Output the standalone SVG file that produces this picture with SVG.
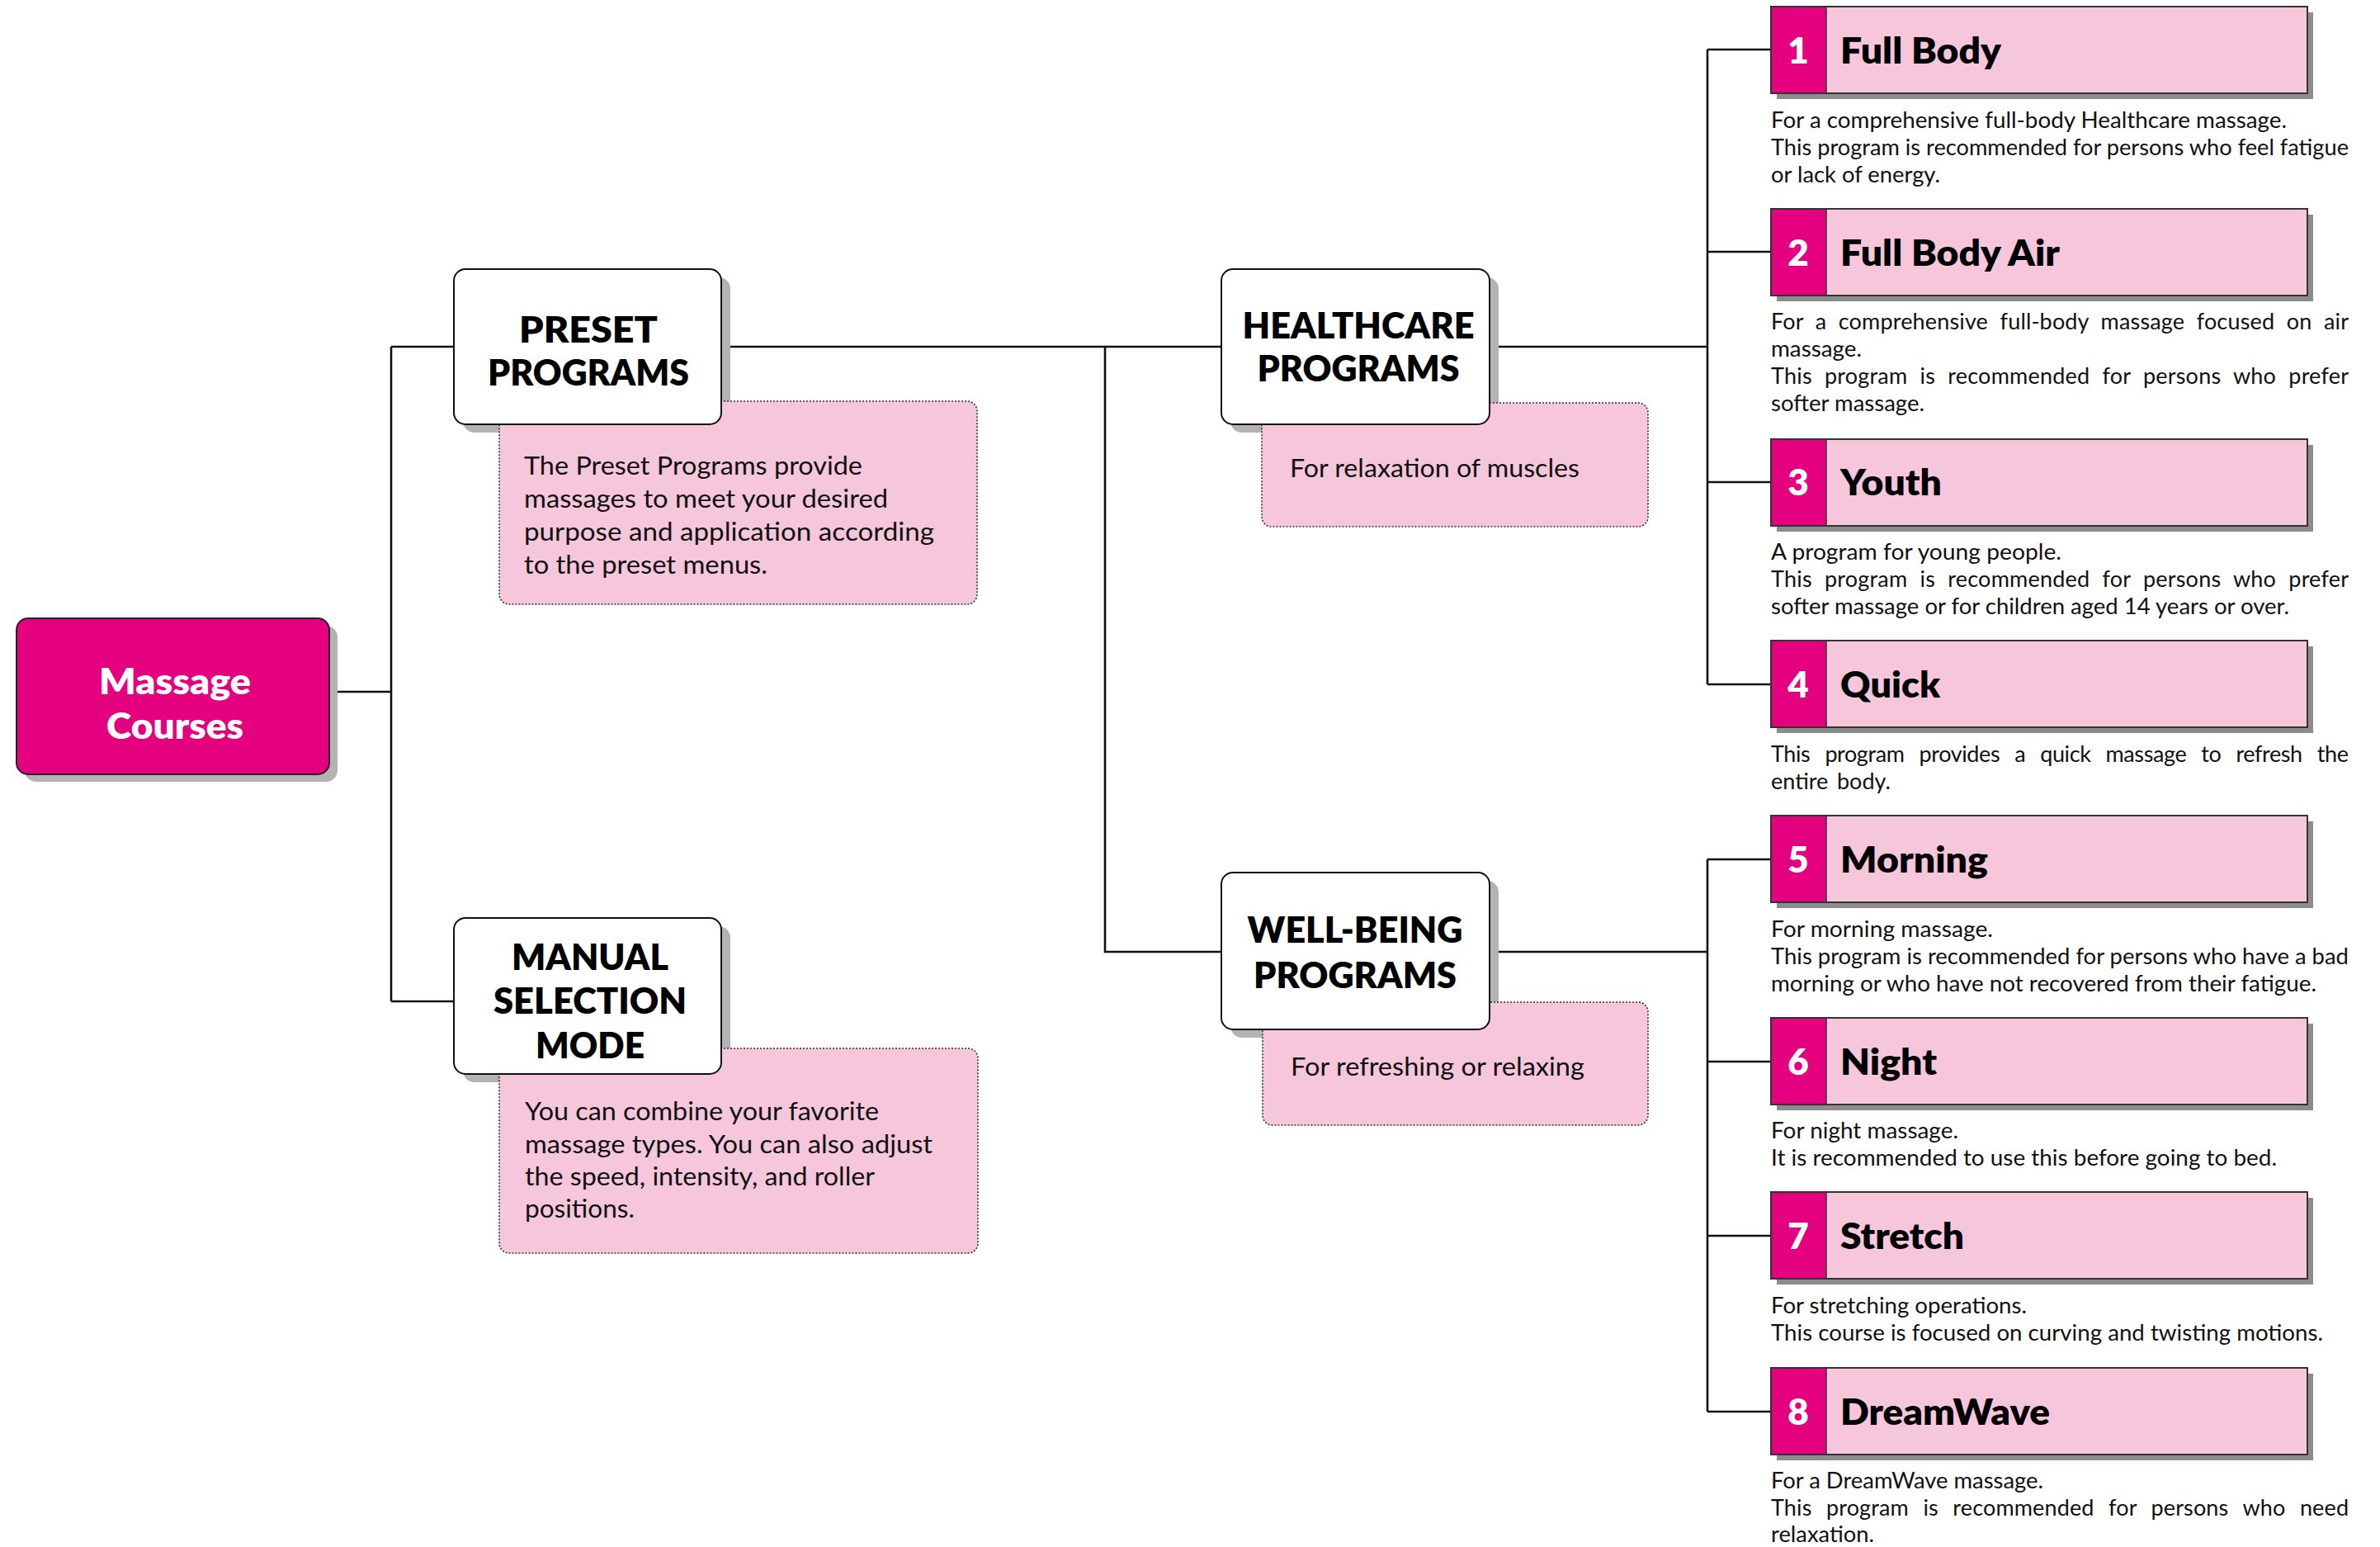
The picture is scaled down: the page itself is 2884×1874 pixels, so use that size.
<svg xmlns="http://www.w3.org/2000/svg" width="2884" height="1874" viewBox="0 0 2884 1874">
<style>
  text { font-family: Lato, "Liberation Sans", "DejaVu Sans", sans-serif; }
  .conn { stroke: #111; stroke-width: 2.6; fill: none; }
  .nshadow { fill: #b3b3b3; }
  .node { fill: #ffffff; stroke: #111; stroke-width: 2; }
  .root { fill: #e4007f; stroke: #222; stroke-width: 2; }
  .note { fill: #f6c6db; stroke: #333; stroke-width: 1.6; stroke-dasharray: 2 2; }
  .ntitle { font-size: 44px; font-weight: 800; fill: #000; text-anchor: middle; }
  .rtitle { font-size: 44px; font-weight: 800; fill: #fff; text-anchor: middle; }
  .nbody { font-size: 31px; fill: #111; }
  .pshadow { fill: #8c8c8c; }
  .pbox { fill: #f6c6db; stroke: #333; stroke-width: 2; }
  .pnum { fill: #e4007f; }
  .num { font-size: 44px; font-weight: 800; fill: #fff; text-anchor: middle; }
  .ptitle { font-size: 44px; font-weight: 800; fill: #000; }
  .desc { font-size: 27px; fill: #111; }
</style>

<g id="connectors">
  <path class="conn" d="M398,838 H474 M474,420 V1213 M474,420 H550 M474,1213 H550"/>
  <path class="conn" d="M874,420 H1480 M1339,420 V1153 H1480"/>
  <path class="conn" d="M1805,420 H2069 M2069,60 V829 M2069,60 H2146 M2069,305 H2146 M2069,584 H2146 M2069,829 H2146"/>
  <path class="conn" d="M1805,1153 H2069 M2069,1041 V1710 M2069,1041 H2146 M2069,1286 H2146 M2069,1497 H2146 M2069,1710 H2146"/>
</g>

<g id="massage-courses">
  <rect class="nshadow" x="30" y="758" width="379" height="189" rx="14"/>
  <rect class="root" x="20" y="749" width="379" height="189" rx="14"/>
  <text class="rtitle" x="212" y="841" textLength="184" lengthAdjust="spacingAndGlyphs">Massage</text>
  <text class="rtitle" x="212" y="895" textLength="166" lengthAdjust="spacingAndGlyphs">Courses</text>
</g>

<g id="preset-programs">
  <rect class="nshadow" x="561" y="336" width="324" height="188" rx="14"/>
  <rect class="note" x="605" y="486" width="579" height="246" rx="12"/>
  <rect class="node" x="550" y="326" width="324" height="188" rx="14"/>
  <text class="ntitle" x="713" y="415" textLength="168" lengthAdjust="spacingAndGlyphs">PRESET</text>
  <text class="ntitle" x="713" y="467" textLength="244" lengthAdjust="spacingAndGlyphs">PROGRAMS</text>
  <text class="nbody" x="635" y="575" textLength="410" lengthAdjust="spacingAndGlyphs">The Preset Programs provide</text>
  <text class="nbody" x="635" y="615" textLength="441" lengthAdjust="spacingAndGlyphs">massages to meet your desired</text>
  <text class="nbody" x="635" y="655" textLength="497" lengthAdjust="spacingAndGlyphs">purpose and application according</text>
  <text class="nbody" x="635" y="695" textLength="295" lengthAdjust="spacingAndGlyphs">to the preset menus.</text>
</g>

<g id="manual-selection-mode">
  <rect class="nshadow" x="561" y="1122" width="324" height="189" rx="14"/>
  <rect class="note" x="605" y="1270" width="580" height="248" rx="12"/>
  <rect class="node" x="550" y="1112" width="324" height="189" rx="14"/>
  <text class="ntitle" x="715" y="1175" textLength="190" lengthAdjust="spacingAndGlyphs">MANUAL</text>
  <text class="ntitle" x="715" y="1228" textLength="234" lengthAdjust="spacingAndGlyphs">SELECTION</text>
  <text class="ntitle" x="715" y="1282" textLength="132" lengthAdjust="spacingAndGlyphs">MODE</text>
  <text class="nbody" x="636" y="1357" textLength="429" lengthAdjust="spacingAndGlyphs">You can combine your favorite</text>
  <text class="nbody" x="636" y="1397" textLength="494" lengthAdjust="spacingAndGlyphs">massage types. You can also adjust</text>
  <text class="nbody" x="636" y="1436" textLength="424" lengthAdjust="spacingAndGlyphs">the speed, intensity, and roller</text>
  <text class="nbody" x="636" y="1475" textLength="133" lengthAdjust="spacingAndGlyphs">positions.</text>
</g>

<g id="healthcare-programs">
  <rect class="nshadow" x="1491" y="336" width="325" height="188" rx="14"/>
  <rect class="note" x="1529" y="488" width="468" height="150" rx="12"/>
  <rect class="node" x="1480" y="326" width="325" height="188" rx="14"/>
  <text class="ntitle" x="1646" y="410" textLength="281" lengthAdjust="spacingAndGlyphs">HEALTHCARE</text>
  <text class="ntitle" x="1646" y="462" textLength="245" lengthAdjust="spacingAndGlyphs">PROGRAMS</text>
  <text class="nbody" x="1563" y="578" textLength="351" lengthAdjust="spacingAndGlyphs">For relaxation of muscles</text>
</g>

<g id="well-being-programs">
  <rect class="nshadow" x="1491" y="1067" width="325" height="190" rx="14"/>
  <rect class="note" x="1530" y="1214" width="467" height="149" rx="12"/>
  <rect class="node" x="1480" y="1057" width="325" height="190" rx="14"/>
  <text class="ntitle" x="1642" y="1142" textLength="261" lengthAdjust="spacingAndGlyphs">WELL-BEING</text>
  <text class="ntitle" x="1642" y="1197" textLength="246" lengthAdjust="spacingAndGlyphs">PROGRAMS</text>
  <text class="nbody" x="1564" y="1303" textLength="356" lengthAdjust="spacingAndGlyphs">For refreshing or relaxing</text>
</g>

<g id="program-1">
  <rect class="pshadow" x="2153" y="15" width="650" height="105"/>
  <rect class="pbox" x="2146" y="8" width="650" height="105"/>
  <rect class="pnum" x="2147" y="9" width="66" height="103"/>
  <line x1="2213" y1="8" x2="2213" y2="113" stroke="#333" stroke-width="1.5"/>
  <text class="num" x="2179" y="77">1</text>
  <text class="ptitle" x="2230" y="77" textLength="195" lengthAdjust="spacingAndGlyphs">Full Body</text>
  <text class="desc" x="2146" y="155" textLength="625" lengthAdjust="spacingAndGlyphs">For a comprehensive full-body Healthcare massage.</text>
  <text class="desc" x="2146" y="188" textLength="700" lengthAdjust="spacingAndGlyphs">This program is recommended for persons who feel fatigue</text>
  <text class="desc" x="2146" y="221" textLength="205" lengthAdjust="spacingAndGlyphs">or lack of energy.</text>
</g>

<g id="program-2">
  <rect class="pshadow" x="2153" y="260" width="650" height="105"/>
  <rect class="pbox" x="2146" y="253" width="650" height="105"/>
  <rect class="pnum" x="2147" y="254" width="66" height="103"/>
  <line x1="2213" y1="253" x2="2213" y2="358" stroke="#333" stroke-width="1.5"/>
  <text class="num" x="2179" y="322">2</text>
  <text class="ptitle" x="2230" y="322" textLength="266" lengthAdjust="spacingAndGlyphs">Full Body Air</text>
  <text class="desc" x="2146" y="399" style="word-spacing:7.5px" textLength="700" lengthAdjust="spacing">For a comprehensive full-body massage focused on air</text>
  <text class="desc" x="2146" y="432" textLength="110" lengthAdjust="spacingAndGlyphs">massage.</text>
  <text class="desc" x="2146" y="465" style="word-spacing:8px" textLength="700" lengthAdjust="spacing">This program is recommended for persons who prefer</text>
  <text class="desc" x="2146" y="498" textLength="186" lengthAdjust="spacingAndGlyphs">softer massage.</text>
</g>

<g id="program-3">
  <rect class="pshadow" x="2153" y="539" width="650" height="105"/>
  <rect class="pbox" x="2146" y="532" width="650" height="105"/>
  <rect class="pnum" x="2147" y="533" width="66" height="103"/>
  <line x1="2213" y1="532" x2="2213" y2="637" stroke="#333" stroke-width="1.5"/>
  <text class="num" x="2179" y="600">3</text>
  <text class="ptitle" x="2230" y="600" textLength="123" lengthAdjust="spacingAndGlyphs">Youth</text>
  <text class="desc" x="2146" y="678" textLength="352" lengthAdjust="spacingAndGlyphs">A program for young people.</text>
  <text class="desc" x="2146" y="711" style="word-spacing:8px" textLength="700" lengthAdjust="spacing">This program is recommended for persons who prefer</text>
  <text class="desc" x="2146" y="744" textLength="628" lengthAdjust="spacingAndGlyphs">softer massage or for children aged 14 years or over.</text>
</g>

<g id="program-4">
  <rect class="pshadow" x="2153" y="783" width="650" height="105"/>
  <rect class="pbox" x="2146" y="776" width="650" height="105"/>
  <rect class="pnum" x="2147" y="777" width="66" height="103"/>
  <line x1="2213" y1="776" x2="2213" y2="881" stroke="#333" stroke-width="1.5"/>
  <text class="num" x="2179" y="845">4</text>
  <text class="ptitle" x="2230" y="845" textLength="121" lengthAdjust="spacingAndGlyphs">Quick</text>
  <text class="desc" x="2146" y="923" style="word-spacing:11.5px" textLength="700" lengthAdjust="spacing">This program provides a quick massage to refresh the</text>
  <text class="desc" y="956"><tspan x="2146">entire</tspan><tspan x="2226">body.</tspan></text>
</g>

<g id="program-5">
  <rect class="pshadow" x="2153" y="995" width="650" height="105"/>
  <rect class="pbox" x="2146" y="988" width="650" height="105"/>
  <rect class="pnum" x="2147" y="989" width="66" height="103"/>
  <line x1="2213" y1="988" x2="2213" y2="1093" stroke="#333" stroke-width="1.5"/>
  <text class="num" x="2179" y="1057">5</text>
  <text class="ptitle" x="2230" y="1057" textLength="179" lengthAdjust="spacingAndGlyphs">Morning</text>
  <text class="desc" x="2146" y="1135" textLength="269" lengthAdjust="spacingAndGlyphs">For morning massage.</text>
  <text class="desc" x="2146" y="1168" textLength="700" lengthAdjust="spacingAndGlyphs">This program is recommended for persons who have a bad</text>
  <text class="desc" x="2146" y="1201" textLength="661" lengthAdjust="spacingAndGlyphs">morning or who have not recovered from their fatigue.</text>
</g>

<g id="program-6">
  <rect class="pshadow" x="2153" y="1240" width="650" height="105"/>
  <rect class="pbox" x="2146" y="1233" width="650" height="105"/>
  <rect class="pnum" x="2147" y="1234" width="66" height="103"/>
  <line x1="2213" y1="1233" x2="2213" y2="1338" stroke="#333" stroke-width="1.5"/>
  <text class="num" x="2179" y="1302">6</text>
  <text class="ptitle" x="2230" y="1302" textLength="117" lengthAdjust="spacingAndGlyphs">Night</text>
  <text class="desc" x="2146" y="1379" textLength="227" lengthAdjust="spacingAndGlyphs">For night massage.</text>
  <text class="desc" x="2146" y="1412" textLength="613" lengthAdjust="spacingAndGlyphs">It is recommended to use this before going to bed.</text>
</g>

<g id="program-7">
  <rect class="pshadow" x="2153" y="1451" width="650" height="105"/>
  <rect class="pbox" x="2146" y="1444" width="650" height="105"/>
  <rect class="pnum" x="2147" y="1445" width="66" height="103"/>
  <line x1="2213" y1="1444" x2="2213" y2="1549" stroke="#333" stroke-width="1.5"/>
  <text class="num" x="2179" y="1513">7</text>
  <text class="ptitle" x="2230" y="1513" textLength="150" lengthAdjust="spacingAndGlyphs">Stretch</text>
  <text class="desc" x="2146" y="1591" textLength="310" lengthAdjust="spacingAndGlyphs">For stretching operations.</text>
  <text class="desc" x="2146" y="1624" textLength="669" lengthAdjust="spacingAndGlyphs">This course is focused on curving and twisting motions.</text>
</g>

<g id="program-8">
  <rect class="pshadow" x="2153" y="1664" width="650" height="105"/>
  <rect class="pbox" x="2146" y="1657" width="650" height="105"/>
  <rect class="pnum" x="2147" y="1658" width="66" height="103"/>
  <line x1="2213" y1="1657" x2="2213" y2="1762" stroke="#333" stroke-width="1.5"/>
  <text class="num" x="2179" y="1726">8</text>
  <text class="ptitle" x="2230" y="1726" textLength="254" lengthAdjust="spacingAndGlyphs">DreamWave</text>
  <text class="desc" x="2146" y="1803" textLength="330" lengthAdjust="spacingAndGlyphs">For a DreamWave massage.</text>
  <text class="desc" x="2146" y="1836" style="word-spacing:10.5px" textLength="700" lengthAdjust="spacing">This program is recommended for persons who need</text>
  <text class="desc" x="2146" y="1868" textLength="125" lengthAdjust="spacingAndGlyphs">relaxation.</text>
</g>
</svg>
